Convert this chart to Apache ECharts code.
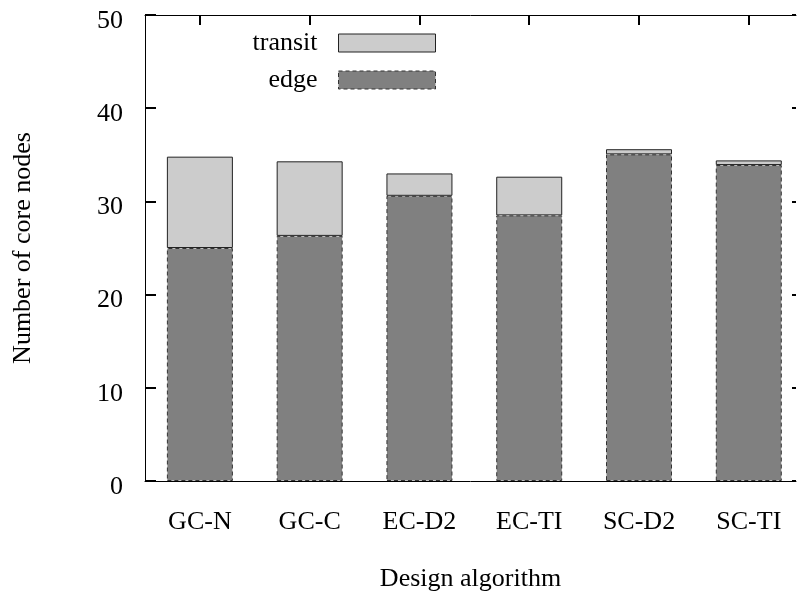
<!DOCTYPE html>
<html>
<head>
<meta charset="utf-8">
<script src="https://cdn.jsdelivr.net/npm/echarts@6/dist/echarts.min.js"></script>
<style>html,body{margin:0;padding:0;background:#fff}#c{width:797px;height:592px}</style>
</head>
<body>
<div id="c"></div>
<script>
const categories = ['GC-N', 'GC-C', 'EC-D2', 'EC-TI', 'SC-D2', 'SC-TI'];
const edgeValues = [25.0, 26.3, 30.6, 28.5, 35.05, 33.9];
const transitValues = [9.8, 8.0, 2.4, 4.15, 0.55, 0.5];
const yTicks = [0, 10, 20, 30, 40, 50];

const FONT = 'Liberation Serif';
const positions = categories.map((_, i) => i);
const EDGE_DASH = [4, 3];

const chart = echarts.init(document.getElementById('c'), null, { renderer: 'canvas' });
chart.setOption({
  animation: false,
  backgroundColor: '#ffffff',
  textStyle: { fontFamily: FONT },
  grid: { left: 145, right: 1, top: 15, bottom: 111, containLabel: false, outerBoundsMode: 'none' },
  legend: {
    orient: 'vertical',
    right: 361,
    top: 30,
    padding: 0,
    align: 'right',
    icon: 'rect',
    itemWidth: 97,
    itemHeight: 18,
    itemGap: 11,
    data: [
      { name: 'transit', itemStyle: { color: '#cccccc', borderColor: '#222222', borderWidth: 1 } },
      { name: 'edge', itemStyle: { color: '#808080', borderColor: '#333333', borderWidth: 1, borderType: EDGE_DASH } }
    ],
    textStyle: { fontFamily: FONT, fontSize: 26, color: '#000', lineHeight: 26, padding: [0, 16, 0, 0] }
  },
  xAxis: [{
    type: 'value',
    position: 'bottom',
    min: -0.5,
    max: 5.43,
    name: 'Design algorithm',
    nameLocation: 'middle',
    nameGap: 85,
    nameTextStyle: { fontFamily: FONT, fontSize: 26, color: '#000' },
    splitLine: { show: false },
    axisLine: { show: true, onZero: false, lineStyle: { color: '#000', width: 1 } },
    axisTick: { show: false },
    axisLabel: {
      customValues: positions,
      formatter: v => categories[Math.round(v)] ?? '',
      fontFamily: FONT, fontSize: 26, color: '#000', margin: 28
    }
  }, {
    type: 'value',
    position: 'top',
    min: -0.5,
    max: 5.43,
    splitLine: { show: false },
    axisLine: { show: true, onZero: false, lineStyle: { color: '#000', width: 1 } },
    axisTick: { show: true, inside: true, length: 10, customValues: positions, lineStyle: { color: '#000', width: 2 } },
    axisLabel: { show: false }
  }],
  yAxis: [{
    type: 'value',
    position: 'left',
    min: 0,
    max: 50,
    interval: 10,
    name: 'Number of core nodes',
    nameLocation: 'middle',
    nameGap: 109,
    nameTextStyle: { fontFamily: FONT, fontSize: 26, color: '#000' },
    splitLine: { show: false },
    axisLine: { show: true, onZero: false, lineStyle: { color: '#000', width: 1 } },
    axisTick: { show: true, inside: true, length: 11, lineStyle: { color: '#000', width: 2 } },
    axisLabel: {
      fontFamily: FONT, fontSize: 26, color: '#000', margin: 22,
      verticalAlign: 'top', lineHeight: 12
    }
  }, {
    type: 'value',
    position: 'right',
    min: 0,
    max: 50,
    interval: 10,
    splitLine: { show: false },
    axisLine: { show: false, onZero: false },
    axisTick: { show: true, inside: true, length: 4, lineStyle: { color: '#000', width: 2 } },
    axisLabel: { show: false }
  }],
  series: [{
    name: 'edge',
    type: 'bar',
    stack: 'total',
    xAxisIndex: 0,
    yAxisIndex: 0,
    barWidth: 66,
    encode: { x: 1, y: 0 },
    itemStyle: { color: '#808080', borderColor: '#333333', borderWidth: 1, borderType: EDGE_DASH },
    data: edgeValues.map((v, i) => [v, positions[i]])
  }, {
    name: 'transit',
    type: 'bar',
    stack: 'total',
    xAxisIndex: 0,
    yAxisIndex: 0,
    barWidth: 66,
    encode: { x: 1, y: 0 },
    itemStyle: { color: '#cccccc', borderColor: '#222222', borderWidth: 1 },
    data: transitValues.map((v, i) => [v, positions[i]])
  }]
});
</script>
</body>
</html>
